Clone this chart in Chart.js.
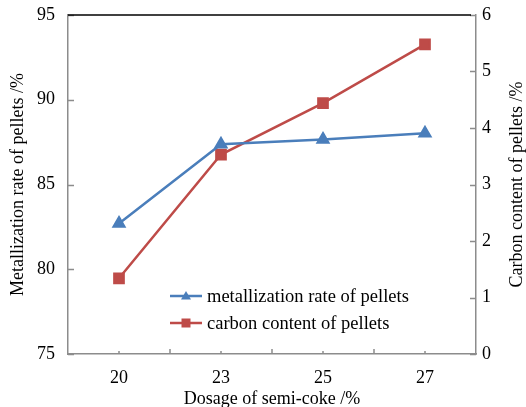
<!DOCTYPE html>
<html>
<head>
<meta charset="utf-8">
<script src="https://cdn.jsdelivr.net/npm/chart.js@4/dist/chart.umd.min.js"></script>
<style>
  html, body { margin: 0; padding: 0; background: #fff; }
  #wrap { width: 526px; height: 407px; }
</style>
</head>
<body>
<div id="wrap"><canvas id="chart"></canvas></div>
<script>
// data
const dosage = ['20', '23', '25', '27'];
const metallization = [82.7, 87.37, 87.66, 88.02];
const carbon = [1.34, 3.53, 4.44, 5.48];
const leftTicks = [75, 80, 85, 90, 95];
const rightTicks = [0, 1, 2, 3, 4, 5, 6];

const blue = '#4a7ebb';
const red = '#be4b48';
const axisGray = '#8c8c8c';
const serif = '"Liberation Serif", "Times New Roman", serif';

// ticks pointing into the plot, the top black line, right title and legend
const decor = {
    id: 'decor',
    afterDraw(chart) {
        const ctx = chart.ctx;
        const area = chart.chartArea;
        const x = chart.scales.x;
        const y = chart.scales.y;
        const y1 = chart.scales.y1;
        ctx.save();
        ctx.strokeStyle = axisGray;
        ctx.lineWidth = 1.5;
        ctx.beginPath();
        leftTicks.forEach(v => {
            const py = Math.round(y.getPixelForValue(v)) + 0.5;
            ctx.moveTo(area.left, py);
            ctx.lineTo(area.left + 6, py);
        });
        rightTicks.forEach(v => {
            const py = Math.round(y1.getPixelForValue(v)) + 0.5;
            ctx.moveTo(area.right, py);
            ctx.lineTo(area.right - 6, py);
        });
        const step = x.getPixelForValue(1) - x.getPixelForValue(0);
        dosage.forEach((d, i) => {
            const px = x.getPixelForValue(i);
            ctx.moveTo(px, area.bottom);
            ctx.lineTo(px, area.bottom - 3);
            if (i > 0) {
                ctx.moveTo(px - step / 2, area.bottom);
                ctx.lineTo(px - step / 2, area.bottom - 5);
            }
        });
        ctx.stroke();

        // black top edge
        ctx.strokeStyle = '#000';
        ctx.lineWidth = 1.5;
        ctx.beginPath();
        ctx.moveTo(area.left, area.top);
        ctx.lineTo(area.right - 5, area.top);
        ctx.stroke();

        // right axis title, reading upward
        ctx.fillStyle = '#000';
        ctx.font = '18px ' + serif;
        ctx.textAlign = 'center';
        ctx.textBaseline = 'middle';
        ctx.translate(517, (area.top + area.bottom) / 2);
        ctx.rotate(-Math.PI / 2);
        ctx.fillText('Carbon content of pellets /%', 0, 0);
        ctx.setTransform(1, 0, 0, 1, 0, 0);

        // legend inside the plot
        const items = [
            { label: 'metallization rate of pellets', color: blue, style: 'triangle', yy: 296 },
            { label: 'carbon content of pellets', color: red, style: 'rect', yy: 323 }
        ];
        items.forEach(it => {
            ctx.strokeStyle = it.color;
            ctx.lineWidth = 2.5;
            ctx.beginPath();
            ctx.moveTo(170, it.yy);
            ctx.lineTo(202, it.yy);
            ctx.stroke();
            ctx.fillStyle = it.color;
            ctx.beginPath();
            if (it.style === 'triangle') {
                ctx.moveTo(186, it.yy - 5);
                ctx.lineTo(191, it.yy + 3.5);
                ctx.lineTo(181, it.yy + 3.5);
                ctx.closePath();
            } else {
                ctx.rect(181.5, it.yy - 4.5, 9, 9);
            }
            ctx.fill();
            ctx.fillStyle = '#000';
            ctx.textAlign = 'left';
            ctx.textBaseline = 'middle';
            ctx.font = '18.5px ' + serif;
            ctx.fillText(it.label, 207, it.yy + 1);
        });
        ctx.restore();
    }
};

function noVPad(scale) {
    scale.paddingTop = 0;
    scale.paddingBottom = 0;
}

new Chart(document.getElementById('chart'), {
    type: 'line',
    data: {
        labels: dosage,
        datasets: [{
            label: 'metallization rate of pellets',
            data: metallization,
            yAxisID: 'y',
            borderColor: blue,
            backgroundColor: blue,
            borderWidth: 2.5,
            pointStyle: 'triangle',
            pointRadius: 6,
            pointHoverRadius: 6,
            tension: 0
        }, {
            label: 'carbon content of pellets',
            data: carbon,
            yAxisID: 'y1',
            borderColor: red,
            backgroundColor: red,
            borderWidth: 2.5,
            pointStyle: 'rect',
            pointRadius: 6.5,
            pointHoverRadius: 6.5,
            tension: 0
        }]
    },
    options: {
        responsive: true,
        maintainAspectRatio: false,
        animation: false,
        layout: { padding: { top: 15, left: 0, right: 0, bottom: 0 } },
        plugins: {
            legend: { display: false },
            tooltip: { enabled: false }
        },
        scales: {
            x: {
                offset: true,
                grid: { display: false, drawTicks: false },
                border: { color: axisGray, width: 1.5 },
                ticks: { color: '#000', font: { family: serif, size: 18 }, padding: 13, maxRotation: 0 },
                title: {
                    display: true,
                    text: 'Dosage of semi-coke /%',
                    color: '#000',
                    font: { family: serif, size: 18, lineHeight: 1 },
                    padding: { top: 0, bottom: -1 }
                },
                afterFit(scale) {
                    scale.height = 53;
                    scale.paddingLeft = 0;
                    scale.paddingRight = 0;
                }
            },
            y: {
                position: 'left',
                min: 75,
                max: 95,
                grid: { display: false, drawTicks: false },
                border: { color: axisGray, width: 1.5 },
                ticks: { stepSize: 5, color: '#000', font: { family: serif, size: 18 }, padding: 13 },
                title: {
                    display: true,
                    text: 'Metallization rate of pellets /%',
                    color: '#000',
                    font: { family: serif, size: 18 },
                    padding: { top: 7, bottom: 0 }
                },
                afterFit(scale) { scale.width = 68; noVPad(scale); }
            },
            y1: {
                position: 'right',
                min: 0,
                max: 6,
                grid: { display: false, drawTicks: false },
                border: { color: axisGray, width: 1.5 },
                ticks: { stepSize: 1, color: '#000', font: { family: serif, size: 18 }, padding: 6 },
                afterFit(scale) { scale.width = 50; noVPad(scale); }
            }
        }
    },
    plugins: [decor]
});
</script>
</body>
</html>
